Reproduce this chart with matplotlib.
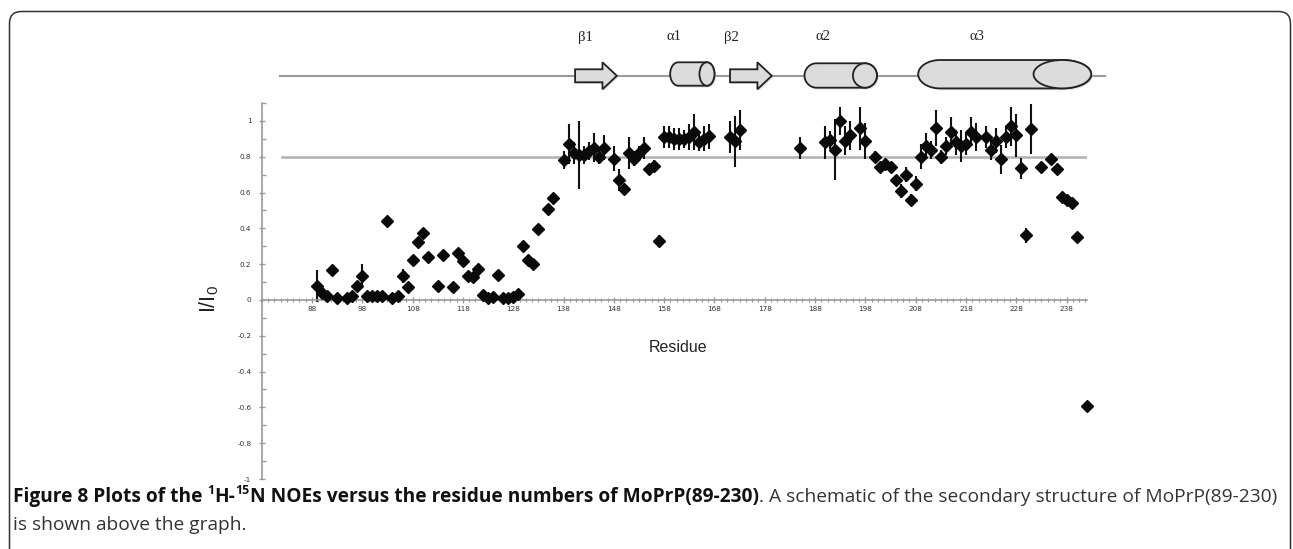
import matplotlib
matplotlib.use("Agg")
import matplotlib.pyplot as plt
import numpy as np
from matplotlib.patches import Polygon, Ellipse, FancyBboxPatch

# ---------------- data ----------------
residues = [89, 90, 91, 92, 93, 95, 96, 97, 98, 99, 100, 101, 102, 103, 104, 105,
            106, 107, 108, 109, 110, 111, 113, 114, 116, 117, 118, 119, 120, 121,
            122, 123, 124, 125, 126, 127, 128, 129, 130, 131, 132, 133, 135, 136,
            138, 139, 140, 141, 142, 143, 144, 145, 146, 148, 149, 150, 151, 152,
            153, 154, 155, 156, 157, 158, 159, 160, 161, 162, 163, 164, 165, 166,
            167, 171, 172, 173, 185, 190, 191, 192, 193, 194, 195, 197, 198, 200,
            201, 202, 203, 204, 205, 206, 207, 208, 209, 210, 211, 212, 213, 214,
            215, 216, 217, 218, 219, 220, 222, 223, 224, 225, 226, 227, 228, 229,
            230, 231, 233, 235, 236, 237, 238, 239, 240, 242]
noe = [0.08, 0.04, 0.02, 0.165, 0.01, 0.01, 0.02, 0.08, 0.135, 0.02, 0.02, 0.02,
       0.02, 0.44, 0.01, 0.02, 0.135, 0.07, 0.225, 0.325, 0.375, 0.24, 0.08, 0.25,
       0.075, 0.26, 0.215, 0.135, 0.13, 0.175, 0.03, 0.01, 0.015, 0.14, 0.01, 0.01,
       0.015, 0.035, 0.30, 0.225, 0.20, 0.395, 0.51, 0.57,
       0.78, 0.87, 0.82, 0.81, 0.81, 0.83, 0.85, 0.80, 0.85, 0.79, 0.67, 0.62,
       0.82, 0.79, 0.82, 0.85, 0.73, 0.75, 0.33, 0.91, 0.91, 0.90, 0.90, 0.90,
       0.91, 0.94, 0.88, 0.90, 0.915, 0.91, 0.885, 0.95, 0.85, 0.88, 0.895, 0.84,
       1.00, 0.89, 0.92, 0.96, 0.89, 0.80, 0.74, 0.76, 0.74, 0.67, 0.61, 0.70,
       0.56, 0.65, 0.80, 0.86, 0.84, 0.96, 0.80, 0.86, 0.94, 0.88, 0.86, 0.87,
       0.94, 0.91, 0.91, 0.84, 0.89, 0.785, 0.91, 0.97, 0.92, 0.735, 0.36, 0.955,
       0.74, 0.79, 0.73, 0.576, 0.56, 0.54, 0.35, -0.59]
noe_err = [0.09, 0, 0, 0, 0, 0, 0, 0, 0.065, 0, 0, 0, 0, 0, 0, 0, 0.04, 0, 0, 0,
           0, 0, 0, 0, 0, 0, 0, 0, 0, 0, 0, 0, 0, 0, 0, 0, 0, 0, 0, 0, 0, 0, 0, 0,
           0.05, 0.11, 0.06, 0.19, 0.05, 0.05, 0.08, 0.04, 0.07, 0.07, 0.06, 0.02,
           0.09, 0.04, 0.04, 0.06, 0.03, 0.03, 0.03, 0.06, 0.06, 0.06, 0.06, 0.05,
           0.07, 0.10, 0.05, 0.07, 0.07, 0.09, 0.14, 0.11, 0.06, 0.09, 0.05, 0.17,
           0.08, 0.08, 0.08, 0.12, 0.10, 0.03, 0.03, 0.03, 0.03, 0.03, 0.04, 0.04,
           0.03, 0.04, 0.07, 0.07, 0.05, 0.10, 0.04, 0.05, 0.08, 0.07, 0.09, 0.06,
           0.08, 0.08, 0.06, 0.06, 0.07, 0.08, 0.06, 0.11, 0.12, 0.06, 0.04, 0.14,
           0, 0, 0, 0, 0, 0, 0, 0]

threshold = 0.8
xtick_values = list(range(88, 239, 10))
ytick_values = [1, 0.8, 0.6, 0.4, 0.2, 0, -0.2, -0.4, -0.6, -0.8, -1]
ytick_labels = ["1", "0.8", "0.6", "0.4", "0.2", "0", "-0.2", "-0.4", "-0.6", "-0.8", "-1"]

# secondary structure elements (residue ranges)
ss_names = ["\u03b21", "\u03b11", "\u03b22", "\u03b12", "\u03b13"]
ss_kind = ["strand", "helix", "strand", "helix", "helix"]
ss_start = [140.3, 159.2, 171.1, 185.9, 208.5]
ss_end = [148.6, 168.0, 179.4, 200.3, 242.9]
ss_label_x = [142.3, 160.0, 171.4, 189.5, 220.2]

# ---------------- figure ----------------
W, H = 1293, 549
fig = plt.figure(figsize=(W / 100, H / 100), dpi=100)
fig.patch.set_facecolor("white")

# border (rounded frame)
frame_ax = fig.add_axes([0, 0, 1, 1])
frame_ax.set_xlim(0, W)
frame_ax.set_ylim(H, 0)
frame_ax.axis("off")
frame = FancyBboxPatch((9.5, 11.5), 1281, 560, boxstyle="round,pad=0,rounding_size=12",
                       fill=False, ec="#333333", lw=1.1)
frame_ax.add_patch(frame)

# main axes
x0px, x1px = 261.7, 1086.7
ytop, ybot = 103, 479
ax = fig.add_axes([x0px / W, 1 - ybot / H, (x1px - x0px) / W, (ybot - ytop) / H])
ax.set_xlim(78, 242)
ax.set_ylim(-1, 1.1)
ax.patch.set_alpha(0)

for s in ["top", "right"]:
    ax.spines[s].set_visible(False)
ax.spines["left"].set_color("#9a9a9a")
ax.spines["left"].set_linewidth(1.2)
ax.spines["bottom"].set_position(("data", 0))
ax.spines["bottom"].set_color("#9a9a9a")
ax.spines["bottom"].set_linewidth(1.2)

ax.set_yticks(ytick_values)
ax.set_yticklabels(ytick_labels)
ax.set_yticks(np.arange(-1, 1.11, 0.1), minor=True)
ax.set_xticks(xtick_values)
ax.set_xticklabels([str(v) for v in xtick_values])
ax.set_xticks(np.arange(78, 242.1, 1.25), minor=True)
ax.tick_params(axis="y", which="major", direction="inout", length=5, width=1,
               color="#9a9a9a", labelsize=5.2, labelcolor="#333333", pad=5)
ax.tick_params(axis="y", which="minor", direction="in", length=3, width=1, color="#9a9a9a")
ax.tick_params(axis="x", which="major", direction="inout", length=5, width=1,
               color="#9a9a9a", labelsize=5.2, labelcolor="#333333", pad=1.5)
ax.tick_params(axis="x", which="minor", direction="inout", length=2.5, width=0.8,
               color="#9a9a9a")

# threshold line
ax.plot([82, 242], [threshold, threshold], color="#b0b0b0", lw=1.8, zorder=1)

# data
err = np.array(noe_err)
ax.errorbar(residues, noe, yerr=np.where(err > 0, err, np.nan), fmt="none",
            ecolor="#111111", elinewidth=1.5, capsize=0, zorder=2)
ax.plot(residues, noe, linestyle="none", marker="D", markersize=6.0,
        color="#0a0a0a", mec="#0a0a0a", zorder=3, clip_on=False)

ax.set_xlabel("Residue", fontsize=11.5, family="Liberation Sans", color="#222222")
ax.xaxis.set_label_coords((678 - x0px) / (x1px - x0px), (ybot - 340) / (ybot - ytop))
fig.text(209 / W, 1 - 299 / H, "I/I$_\\mathregular{0}$", rotation=90, ha="center",
         va="center", fontsize=15.5, family="Liberation Sans", color="#222222")

# secondary structure schematic
sy0, sy1 = 10, 100
sax = fig.add_axes([x0px / W, 1 - sy1 / H, (x1px - x0px) / W, (sy1 - sy0) / H])
sax.set_xlim(ax.get_xlim())
sax.set_ylim(sy1, sy0)
sax.axis("off")
sax.plot([81.6, 245.7], [75.7, 75.7], color="#9a9a9a", lw=1.5, clip_on=False, zorder=1)

px_per_res = (x1px - x0px) / (242 - 78)
fill = "#dcdcdc"
for name, kind, a, b, lx in zip(ss_names, ss_kind, ss_start, ss_end, ss_label_x):
    if kind == "strand":
        head = 14.4 / px_per_res
        yc = 75.8
        pts = [(a, yc - 6.5), (b - head, yc - 6.5), (b - head, yc - 13.5), (b, yc),
               (b - head, yc + 13.5), (b - head, yc + 6.5), (a, yc + 6.5)]
        sh = Polygon([(p[0] + 0.3, p[1] + 1.5) for p in pts], closed=True,
                     fc="#c8c8c8", ec="none", alpha=0.6, clip_on=False, zorder=2)
        sax.add_patch(sh)
        sax.add_patch(Polygon(pts, closed=True, fc=fill, ec="#222222", lw=1.3,
                              clip_on=False, zorder=3))
    else:
        length_px = (b - a) * px_per_res
        if length_px < 60:
            yc, hh, ew_px, lw_px = 74.0, 11.7, 15, 8
        elif length_px < 100:
            yc, hh, ew_px, lw_px = 75.5, 12.2, 24, 12
        else:
            yc, hh, ew_px, lw_px = 74.2, 14.2, 57.7, 22
        ew = ew_px / px_per_res
        lw_r = lw_px / px_per_res
        cx_r = b - ew / 2
        cx_l = a + lw_r
        t = np.linspace(-np.pi / 2, np.pi / 2, 40)
        right = [(cx_r + ew / 2 * np.cos(tt), yc + hh * np.sin(tt)) for tt in t]
        t2 = np.linspace(np.pi / 2, 3 * np.pi / 2, 40)
        left = [(cx_l + lw_r * np.cos(tt), yc + hh * np.sin(tt)) for tt in t2]
        body = right + left
        sh = Polygon([(p[0] + 0.3, p[1] + 1.8) for p in body], closed=True,
                     fc="#c8c8c8", ec="none", alpha=0.6, clip_on=False, zorder=2)
        sax.add_patch(sh)
        sax.add_patch(Polygon(body, closed=True, fc=fill, ec="#222222", lw=1.3,
                              clip_on=False, zorder=3))
        sax.add_patch(Ellipse((cx_r, yc), ew, 2 * hh, fc=fill, ec="#222222", lw=1.3,
                              clip_on=False, zorder=4))
    sax.text(lx, 37, name, ha="center", va="center", fontsize=10.5,
             family="Liberation Serif", color="#222222")

# caption
fig.canvas.draw()
renderer = fig.canvas.get_renderer()


def draw_runs(x_px, y_px, runs, size):
    x = x_px
    made = []
    for txt, weight, scale, dy, color in runs:
        t = fig.text(x / W, (H - y_px + dy * size * 100 / 72) / H, txt,
                     fontsize=size * scale, fontweight=weight, family="Open Sans",
                     color=color, va="baseline", ha="left")
        bb = t.get_window_extent(renderer=renderer)
        x += bb.width
        made.append(t)
    return x, made


line1 = [("Figure 8 Plots of the ", "bold", 1, 0, "#111111"),
         ("1", "bold", 0.65, 0.42, "#111111"),
         ("H-", "bold", 1, 0, "#111111"),
         ("15", "bold", 0.65, 0.42, "#111111"),
         ("N NOEs versus the residue numbers of MoPrP(89-230)", "bold", 1, 0, "#111111"),
         (". A schematic of the secondary structure of MoPrP(89-230)", "normal", 1, 0, "#333333")]
# fit the first caption line to the reference width
trial = 10.0
end, made = draw_runs(13, 502, line1, trial)
for m in made:
    m.remove()
cap_size = trial * (1276 - 13) / (end - 13)
draw_runs(13, 502, line1, cap_size)
draw_runs(13, 530, [("is shown above the graph.", "normal", 1, 0, "#333333")], cap_size)

fig.savefig("out.png", dpi=100, facecolor="white")
